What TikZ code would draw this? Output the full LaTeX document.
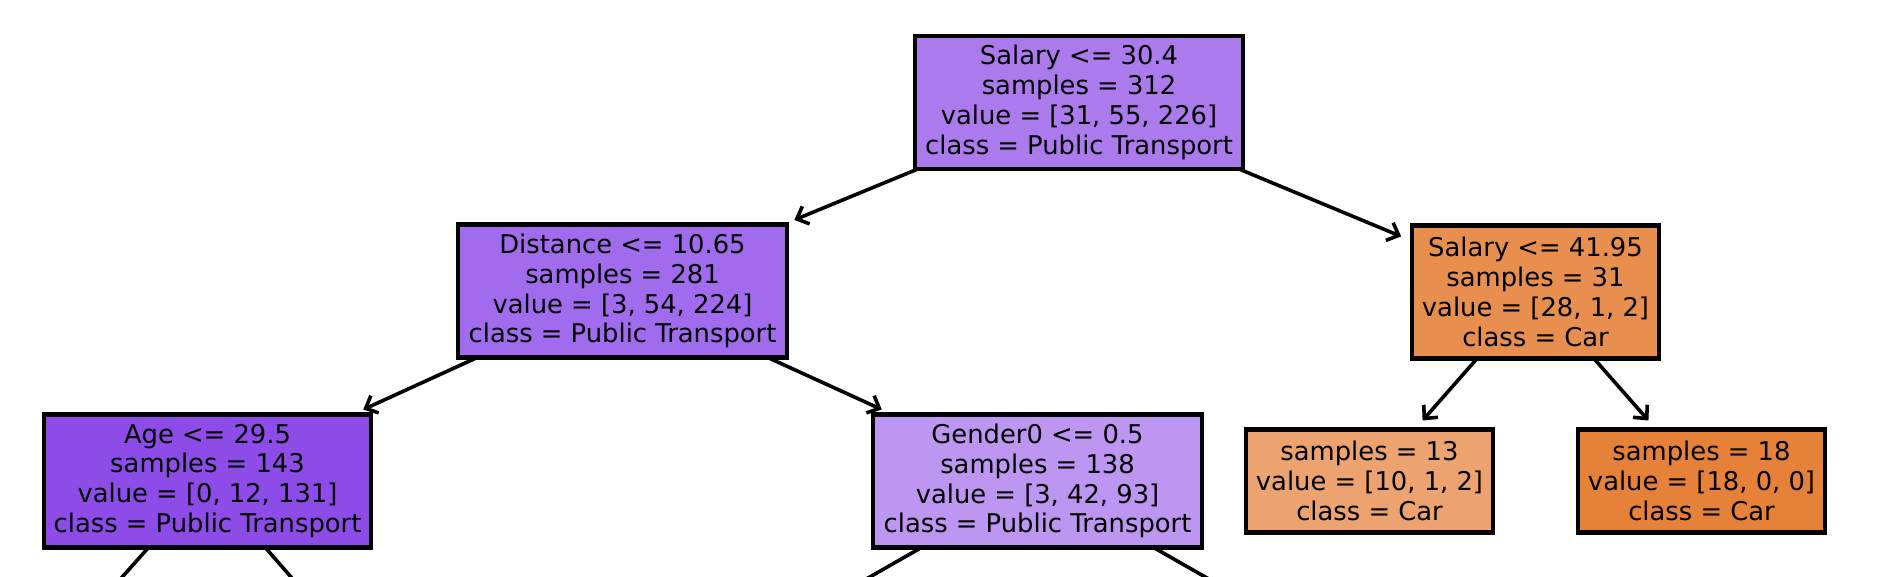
\documentclass[tikz,border=0pt]{standalone}
\usepackage{fontspec}
\setmainfont{DejaVu Sans}
\usetikzlibrary{arrows.meta}
\definecolor{cRoot}{HTML}{AB7BEE}
\definecolor{cDist}{HTML}{A16BEE}
\definecolor{cAge}{HTML}{8D4BE7}
\definecolor{cGen}{HTML}{BC96F1}
\definecolor{cSalB}{HTML}{E88E4E}
\definecolor{cSThirteen}{HTML}{ECA36F}
\definecolor{cSEighteen}{HTML}{E58139}
\tikzset{
  tn/.style={draw=black, line width=4.3pt, align=center, inner sep=0pt, outer sep=0pt,
    font=\fontsize{25.8}{29.8}\selectfont, minimum height=133pt},
  leafbox/.style={tn, minimum height=103pt},
  edge/.style={line width=3.6pt, -{Straight Barb[length=10pt,width=19pt]}, shorten >=12pt}
}
\begin{document}
\begin{tikzpicture}[x=1pt,y=-1pt]
\useasboundingbox (0,0) rectangle (1895,577);
\clip (0,0) rectangle (1895,577);
\node[tn, fill=cRoot, minimum width=327.5pt] (root) at (1079,102.5)
  {Salary <= 30.4\\samples = 312\\value = [31, 55, 226]\\class = Public Transport};
\node[tn, fill=cDist, minimum width=328.5pt] (dist) at (622.5,291)
  {Distance <= 10.65\\samples = 281\\value = [3, 54, 224]\\class = Public Transport};
\node[tn, fill=cSalB, minimum width=246.5pt] (salb) at (1535.5,292)
  {Salary <= 41.95\\samples = 31\\value = [28, 1, 2]\\class = Car};
\node[tn, fill=cAge, minimum width=326.5pt] (age) at (207.5,481)
  {Age <= 29.5\\samples = 143\\value = [0, 12, 131]\\class = Public Transport};
\node[tn, fill=cGen, minimum width=328.5pt] (gen) at (1037.5,481)
  {Gender0 <= 0.5\\samples = 138\\value = [3, 42, 93]\\class = Public Transport};
\node[leafbox, fill=cSThirteen, minimum width=246.5pt] (sthirteen) at (1369.5,481)
  {samples = 13\\value = [10, 1, 2]\\class = Car};
\node[leafbox, fill=cSEighteen, minimum width=246.5pt] (seighteen) at (1701.5,481)
  {samples = 18\\value = [18, 0, 0]\\class = Car};
\coordinate (ageL) at (38.5,671);
\coordinate (ageR) at (373,671);
\coordinate (genL) at (705,671);
\coordinate (genR) at (1370,671);
\draw[edge] (root) -- (dist);
\draw[edge] (root) -- (salb);
\draw[edge] (dist) -- (age);
\draw[edge] (dist) -- (gen);
\draw[edge] (salb) -- (sthirteen);
\draw[edge] (salb) -- (seighteen);
\draw[edge] (age) -- (ageL);
\draw[edge] (age) -- (ageR);
\draw[edge] (gen) -- (genL);
\draw[edge] (gen) -- (genR);
\end{tikzpicture}
\end{document}
